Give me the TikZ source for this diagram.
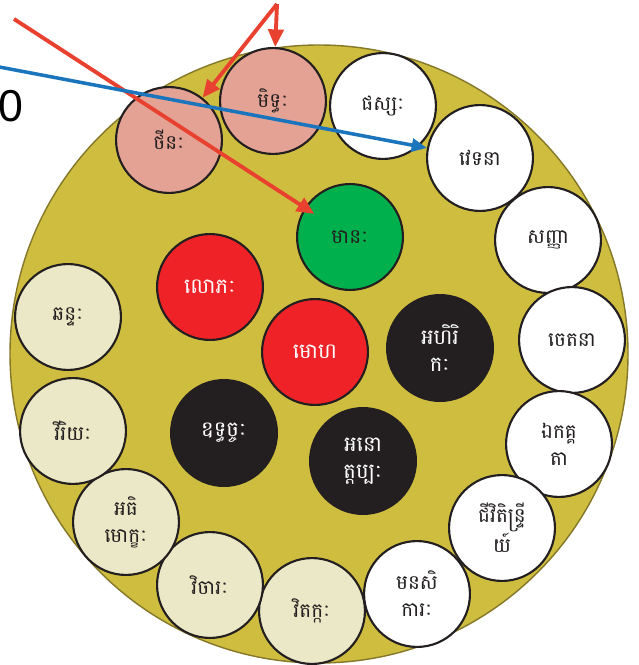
\documentclass[tikz,border=0pt]{standalone}
\usepackage{fontspec}
\setmainfont{Liberation Sans}
\newfontfamily\khmer[Script=Khmer]{Battambang}
\usetikzlibrary{arrows.meta}

\definecolor{bgolive}{HTML}{CFBD40}
\definecolor{oliveline}{HTML}{857828}
\definecolor{pinkc}{HTML}{E4A294}
\definecolor{creamc}{HTML}{EAE8C6}
\definecolor{greenc}{HTML}{00B04C}
\definecolor{redc}{HTML}{EE2227}
\definecolor{darkc}{HTML}{231F20}
\definecolor{arrowred}{HTML}{E8412F}
\definecolor{arrowblue}{HTML}{1B75BC}

\tikzset{
  factor/.style={circle,draw=darkc,line width=1.8pt,minimum size=90pt,
    inner sep=0pt,align=center,text=darkc,
    font=\khmer\fontsize{17}{23}\selectfont},
  pinkf/.style={factor,fill=pinkc},
  whitef/.style={factor,fill=white},
  creamf/.style={factor,fill=creamc},
  greenf/.style={factor,fill=greenc},
  redf/.style={factor,fill=redc,text=white,font=\khmer\fontsize{18}{23}\selectfont},
  darkf/.style={factor,fill=darkc,text=white,font=\khmer\fontsize{18}{23}\selectfont},
  redarrow/.style={draw=arrowred,line width=3.3pt,
    -{Triangle[length=15pt,width=13pt]}},
  bluearrow/.style={draw=arrowblue,line width=3pt,
    -{Triangle[length=13pt,width=11pt]}}
}

\begin{document}
\begin{tikzpicture}[x=0.85pt,y=-0.85pt]
        \useasboundingbox (0,0) rectangle (638,665);
        \filldraw[fill=bgolive,draw=oliveline,line width=1.2pt] (319,354) circle (309);
        \node[anchor=east,inner sep=0pt,font=\fontsize{38}{38}\selectfont] (num) at (24,106) {0};
        % Outer ring
        \node[pinkf] (thina) at (169,140) {ថីនៈ};
        \node[pinkf] (mittha) at (273,101) {មិទ្ធៈ};
        \node[whitef] (phassa) at (383,106) {ផស្សៈ};
        \node[whitef] (vedana) at (480,158) {វេទនា};
        \node[whitef] (sanna) at (548,240) {សញ្ញា};
        \node[whitef] (cetana) at (572,340) {ចេតនា};
        \node[whitef] (ekaggata) at (559,444) {ឯកគ្គ\\តា};
        \node[whitef] (jivita) at (502,528) {ជីវិតិន្ទ្រី\\យ៍};
        \node[whitef] (manasi) at (417,594) {មនសិ\\ការៈ};
        \node[creamf] (vitakka) at (312,611) {វិតក្កៈ};
        \node[creamf] (vicara) at (210,585) {វិចារៈ};
        \node[creamf] (adhimokkha) at (126,522) {អធិ\\មោក្ខៈ};
        \node[creamf] (viriya) at (73,431) {វីរិយៈ};
        \node[creamf] (chanda) at (68,317) {ឆន្ទៈ};
        % Inner group
        \node[greenf] (mana) at (350,237) {មានៈ};
        \node[redf] (lobha) at (210,287) {លោភៈ};
        \node[redf] (moha) at (315,352) {មោហ};
        \node[darkf] (ahirika) at (440,348) {អហិរិ\\កៈ};
        \node[darkf] (uddhacca) at (224,433) {ឧទ្ធច្ចៈ};
        \node[darkf] (anottappa) at (363,461) {អនោ\\ត្តប្បៈ};
        % Arrows
        \coordinate (lblA) at (277,4);
        \coordinate (lblB) at (14,19);
        \coordinate (lblC) at (-6,66);
        \draw[redarrow] (lblA) -- (mittha);
        \draw[redarrow] (lblA) -- (thina);
        \draw[redarrow,shorten >=36pt] (lblB) -- (mana.center);
        \draw[bluearrow] (lblC) -- (vedana);
\end{tikzpicture}
\end{document}
